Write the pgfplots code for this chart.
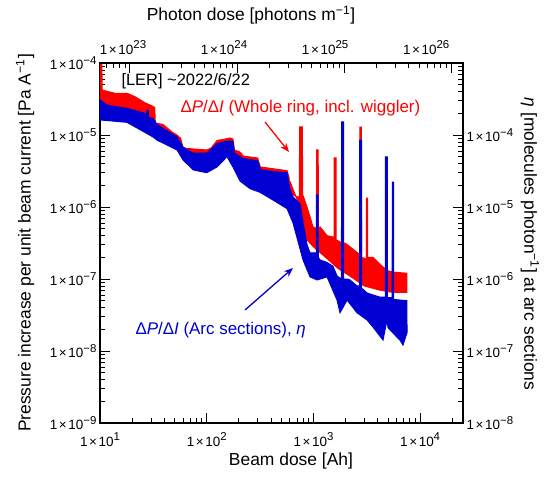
\documentclass[border=0pt]{standalone}
\usepackage{fontspec}
\setmainfont{Liberation Sans}
\usepackage{pgfplots}
\pgfplotsset{compat=1.18}
\usetikzlibrary{arrows.meta}
\definecolor{dred}{RGB}{255,0,0}
\definecolor{dblue}{RGB}{0,0,210}
% tick label "1 x 10^n"
\newcommand{\tl}[1]{1\hspace{0.12em}×\hspace{0.12em}10\raisebox{0.42em}{\fontsize{11.5}{11.5}\selectfont #1}}

\begin{document}
\begin{tikzpicture}
\useasboundingbox (-100bp,-54bp) rectangle (454bp,423bp);
\pgfplotsset{every axis/.append style={
  scale only axis, width=363bp, height=360bp, at={(0,0)}, anchor=south west,
  xmode=log, ymode=log, tick align=inside,
  axis line style={line width=1.7bp, black},
  major tick length=10bp, minor tick length=5bp,
  major tick style={line width=1bp, black},
  minor tick style={line width=0.8bp, black},
  tick label style={font=\fontsize{13.5}{15}\selectfont},
}}
% bottom / left axis: beam dose vs dP/dI
\begin{axis}[
  xmin=10, xmax=2.52e4, ymin=1e-9, ymax=1e-4,
  xtick pos=left, ytick pos=left,
  xticklabel style={yshift=-6bp},
  xtick={10,100,1000,10000},
  xticklabels={\tl{1},\tl{2},\tl{3},\tl{4}},
  minor xtick={20,30,40,50,60,70,80,90,200,300,400,500,600,700,800,900,2000,3000,4000,5000,6000,7000,8000,9000,20000},
  ytick={1e-9,1e-8,1e-7,1e-6,1e-5,1e-4},
  yticklabels={\tl{−9},\tl{−8},\tl{−7},\tl{−6},\tl{−5},\tl{−4}},
  minor ytick={2e-9,3e-9,4e-9,5e-9,6e-9,7e-9,8e-9,9e-9,2e-8,3e-8,4e-8,5e-8,6e-8,7e-8,8e-8,9e-8,2e-7,3e-7,4e-7,5e-7,6e-7,7e-7,8e-7,9e-7,2e-6,3e-6,4e-6,5e-6,6e-6,7e-6,8e-6,9e-6,2e-5,3e-5,4e-5,5e-5,6e-5,7e-5,8e-5,9e-5},
]
% whole ring (upper envelope, then lower envelope back)
\addplot[draw=dred, fill=dred, line width=1bp] coordinates {
(10,1.0e-4) (10.4,1.0e-4) (10.5,4.2e-5) (13.8,3.8e-5) (17.9,3.8e-5) (21.3,3.4e-5)
(26.4,2.8e-5) (31.4,2.5e-5) (32.6,2.4e-5) (33.0,1.47e-5) (38.9,1.4e-5) (47.3,1.1e-5)
(52.7,1.0e-5) (57,9.0e-6) (60,6.6e-6) (75,6.4e-6) (100,6.2e-6) (110,6.6e-6)
(125,8.4e-6) (150,8.8e-6) (165,9.1e-6) (176,8.8e-6) (182,6.2e-6) (205,5.8e-6)
(220,5.1e-6) (300,4.8e-6) (318,3.6e-6) (418,3.4e-6) (566,3.2e-6) (590,2.6e-6) (604,1.56e-6)
(702,1.38e-6) (738,1.38e-6) (742,1.3e-5) (788,1.3e-5) (792,1.5e-6) (870,1.0e-6)
(930,7.3e-7) (990,5.3e-7) (1068,5.0e-7) (1072,6.2e-6) (1108,6.2e-6) (1114,4.8e-7)
(1153,5.3e-7) (1341,4.0e-7) (1560,3.8e-7) (1565,4.8e-6) (1628,4.8e-6) (1634,3.5e-7)
(1850,3.16e-7) (1976,3.16e-7) (2200,2.8e-7) (2600,2.3e-7) (2715,2.2e-7) (2722,1.29e-5)
(2815,1.29e-5) (2822,2.0e-7) (3125,1.9e-7) (3132,1.33e-6) (3215,1.33e-6) (3222,2.0e-7)
(3615,2.0e-7) (4206,1.6e-7) (4487,1.47e-7) (5000,1.3e-7) (5572,1.25e-7) (7500,1.2e-7)
(7500,6.5e-8) (5600,6.5e-8) (4200,7e-8) (3000,8e-8) (2200,1.1e-7) (1700,1.4e-7)
(1300,2.0e-7) (1000,2.8e-7) (870,3.5e-7) (750,1.0e-6) (600,2.3e-6) (420,2.6e-6)
(240,3.3e-6) (180,5e-6) (176,7.0e-6) (125,6e-6) (100,4.8e-6) (75,4.8e-6)
(60,6e-6) (52,8.5e-6) (34,1.3e-5) (31,1.55e-5) (18,2.1e-5) (10,2.7e-5)
};
% arc sections
\addplot[draw=dblue, fill=dblue, line width=1bp] coordinates {
(10,3.1e-5) (11.6,2.6e-5) (17.9,2.35e-5) (26.4,2.0e-5) (27.3,1.85e-5) (27.5,2.2e-5)
(28.3,2.2e-5) (28.5,1.75e-5) (31.4,1.7e-5) (34.2,1.4e-5) (52.7,9.4e-6) (60,6.8e-6)
(74.5,5.6e-6) (100.7,5.6e-6) (125,7.6e-6) (155,8.2e-6) (176,8.2e-6) (182,5.6e-6)
(220,4.7e-6) (300,4.4e-6) (320,3.3e-6) (418,3.1e-6) (566,3.0e-6) (600,1.8e-6) (644,1.38e-6)
(749,1.1e-6) (800,6.0e-7) (871,3.0e-7) (929,2.3e-7) (1064,2.3e-7) (1068,1.47e-6)
(1105,1.47e-6) (1110,2.0e-7) (1153,1.84e-7) (1341,1.7e-7) (1527,1.5e-7) (1664,1.1e-7)
(1830,1.0e-7) (1836,1.52e-5) (1915,1.52e-5) (1922,1.0e-7) (2064,1.0e-7) (2200,9.7e-8)
(2562,8.0e-8) (2708,8.0e-8) (2715,8.5e-6) (2820,8.5e-6) (2828,7.5e-8) (3177,6.4e-8)
(3615,6.0e-8) (4206,5.6e-8) (4720,5.6e-8) (4730,4.95e-6) (4920,4.95e-6) (4930,5.5e-8)
(5470,5.5e-8) (5480,2.22e-6) (5640,2.22e-6) (5650,5.2e-8) (6500,5.1e-8) (7500,5.0e-8)
(7537,1.8e-8) (6900,1.21e-8) (6500,1.4e-8) (5572,1.78e-8) (5000,2.1e-8) (4894,2.7e-8)
(4487,1.42e-8) (3615,2.15e-8) (3177,2.7e-8) (2562,3.4e-8) (2064,5.1e-8) (1775,3.4e-8)
(1664,5.1e-8) (1341,1.07e-7) (1081,9.7e-8) (929,1.07e-7) (799,1.84e-7) (644,6.0e-7)
(566,9.5e-7) (418,1.25e-6) (316,1.6e-6) (254,1.8e-6) (205,2.3e-6) (176,3.6e-6)
(155,5.0e-6) (125,3.6e-6) (100,3.0e-6) (75,3.27e-6) (60,4.5e-6) (52.7,6.2e-6)
(34.2,8.5e-6) (31.4,9.4e-6) (17.9,1.5e-5) (10,1.62e-5)
};
\end{axis}
% top / right axis: photon dose vs eta
\begin{axis}[
  xmin=5.25e22, xmax=1.29e26, ymin=1e-8, ymax=1e-3,
  axis x line*=top, axis y line*=right,
  xticklabel style={yshift=5bp, xshift={-7bp-6bp*\ticknum}},
  xtick={1e23,1e24,1e25,1e26},
  xticklabels={\tl{23},\tl{24},\tl{25},\tl{26}},
  minor xtick={6e22,7e22,8e22,9e22,2e23,3e23,4e23,5e23,6e23,7e23,8e23,9e23,2e24,3e24,4e24,5e24,6e24,7e24,8e24,9e24,2e25,3e25,4e25,5e25,6e25,7e25,8e25,9e25},
  ytick={1e-8,1e-7,1e-6,1e-5,1e-4},
  yticklabels={\tl{−8},\tl{−7},\tl{−6},\tl{−5},\tl{−4}},
  minor ytick={2e-8,3e-8,4e-8,5e-8,6e-8,7e-8,8e-8,9e-8,2e-7,3e-7,4e-7,5e-7,6e-7,7e-7,8e-7,9e-7,2e-6,3e-6,4e-6,5e-6,6e-6,7e-6,8e-6,9e-6,2e-5,3e-5,4e-5,5e-5,6e-5,7e-5,8e-5,9e-5,2e-4,3e-4,4e-4,5e-4,6e-4,7e-4,8e-4,9e-4},
]
\end{axis}
% axis titles
\node[rotate=90, font=\fontsize{17.5}{20}\selectfont] at (-75bp,180bp) {Pressure increase per unit beam current [Pa A\textsuperscript{−1}]};
\node[rotate=-90, font=\fontsize{17.5}{20}\selectfont] at (430bp,179bp) {\textit{η} [molecules photon\textsuperscript{−1}] at arc sections};
\node[font=\fontsize{17.5}{20}\selectfont] at (151bp,408bp) {Photon dose [photons m\textsuperscript{−1}]};
\node[font=\fontsize{17.5}{20}\selectfont] at (191bp,-38bp) {Beam dose [Ah]};
% annotations
\node[anchor=base west, font=\fontsize{16.5}{19}\selectfont] at (18bp,337bp) {[LER] \textasciitilde 2022/6/22};
\node[anchor=base west, text=dred, font=\fontsize{17}{19}\selectfont] at (77bp,310bp) {Δ\textit{P}/Δ\textit{I} (Whole ring, incl. wiggler)};
\node[anchor=base west, text=dblue, font=\fontsize{17}{19}\selectfont] at (32bp,88bp) {Δ\textit{P}/Δ\textit{I} (Arc sections), \textit{η}};
\draw[dred, line width=1.3bp, -{Stealth[length=9bp,width=7bp]}] (165bp,301bp) -- (189bp,271bp);
\draw[dblue, line width=1.3bp, -{Stealth[length=9bp,width=7bp]}] (145bp,113bp) -- (193bp,155bp);
\end{tikzpicture}
\end{document}
